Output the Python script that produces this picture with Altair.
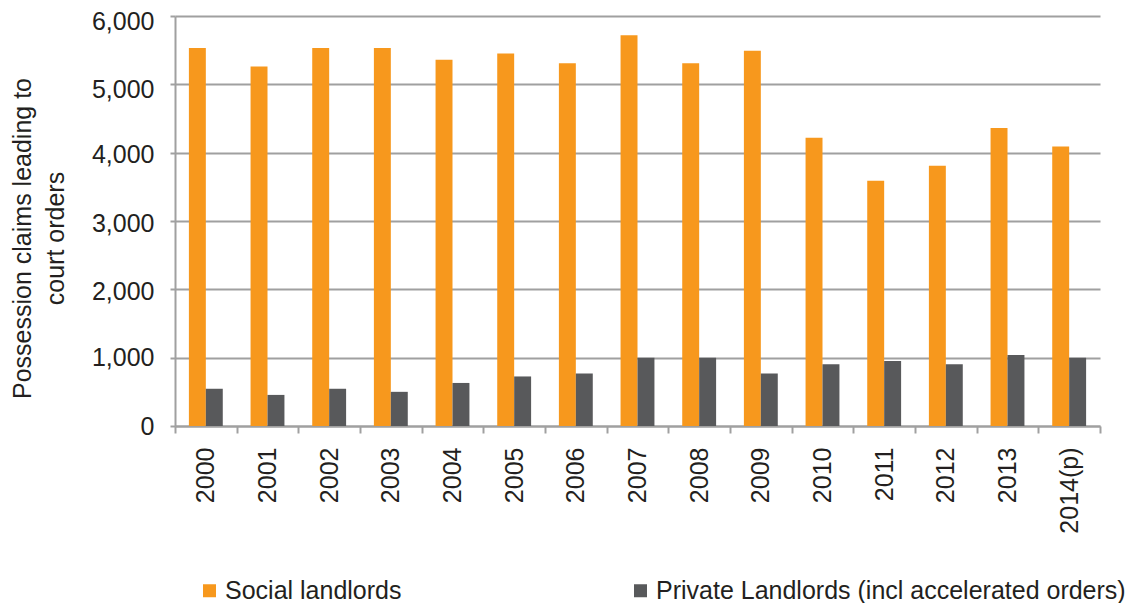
import altair as alt
import pandas as pd

years = ["2000", "2001", "2002", "2003", "2004", "2005", "2006", "2007",
         "2008", "2009", "2010", "2011", "2012", "2013", "2014(p)"]
social = [5530, 5260, 5530, 5530, 5360, 5450, 5310, 5720, 5310, 5490,
          4220, 3590, 3810, 4360, 4090]
private = [545, 455, 545, 500, 630, 725, 770, 1000, 1000, 770,
           905, 950, 905, 1040, 1000]
series_names = ["Social landlords", "Private Landlords (incl accelerated orders)"]
colors = ["#F7981D", "#58595B"]
y_ticks = [0, 1000, 2000, 3000, 4000, 5000, 6000]
y_title = ["Possession claims leading to", "court orders"]

rows = []
for yr, s, p in zip(years, social, private):
    rows.append({"year": yr, "series": series_names[0], "value": s})
    rows.append({"year": yr, "series": series_names[1], "value": p})
df = pd.DataFrame(rows)

FONT = "Liberation Sans"
TXT = "#231F20"
GRID = "#A0A0A0"

chart = alt.Chart(df).mark_bar().encode(
    x=alt.X("year:N", sort=years,
            scale=alt.Scale(paddingInner=0, paddingOuter=0),
            axis=alt.Axis(title=None, labelAngle=-90, tickBand="extent",
                          labelAlign="right", labelBaseline="middle",
                          tickSize=7, labelPadding=14, grid=False)),
    xOffset=alt.XOffset("series:N", sort=series_names,
                        scale=alt.Scale(paddingInner=0, paddingOuter=0.82)),
    y=alt.Y("value:Q", scale=alt.Scale(domain=[0, 6000], nice=False),
            axis=alt.Axis(values=y_ticks, format=",.0f", title=y_title,
                          tickSize=5, labelPadding=16, grid=True,
                          labelOffset={"condition": [
                              {"test": "datum.value >= 5000", "value": 5},
                              {"test": "datum.value >= 2000", "value": 2}],
                              "value": 0},
                          titleX=-165, titleY=222, titleAngle=270,
                          titleBaseline="top", titleAlign="center",
                          titleLineHeight=33)),
    color=alt.Color("series:N", sort=series_names,
                    scale=alt.Scale(domain=series_names, range=colors),
                    legend=alt.Legend(title=None, orient="none",
                                      legendX=22, legendY=562,
                                      direction="horizontal",
                                      symbolType="square", symbolSize=169,
                                      symbolStrokeWidth=0,
                                      labelFontSize=25, labelFont=FONT,
                                      labelColor=TXT, labelLimit=0,
                                      labelOffset=3, columnPadding=226,
                                      padding=0)),
).properties(
    width=925, height=410,
    autosize=alt.AutoSizeParams(type="none"),
    padding={"left": 167, "top": 8, "right": 25, "bottom": 177},
).configure_view(stroke=None).configure_axis(
    labelFont=FONT, labelFontSize=25, labelColor=TXT,
    titleFont=FONT, titleFontSize=25, titleColor=TXT, titleFontWeight="normal",
    domainColor=GRID, domainWidth=2, tickColor=GRID, tickWidth=2,
    gridColor=GRID, gridWidth=2,
)

chart.save("out.html", embed_options={"renderer": "svg", "actions": False})
